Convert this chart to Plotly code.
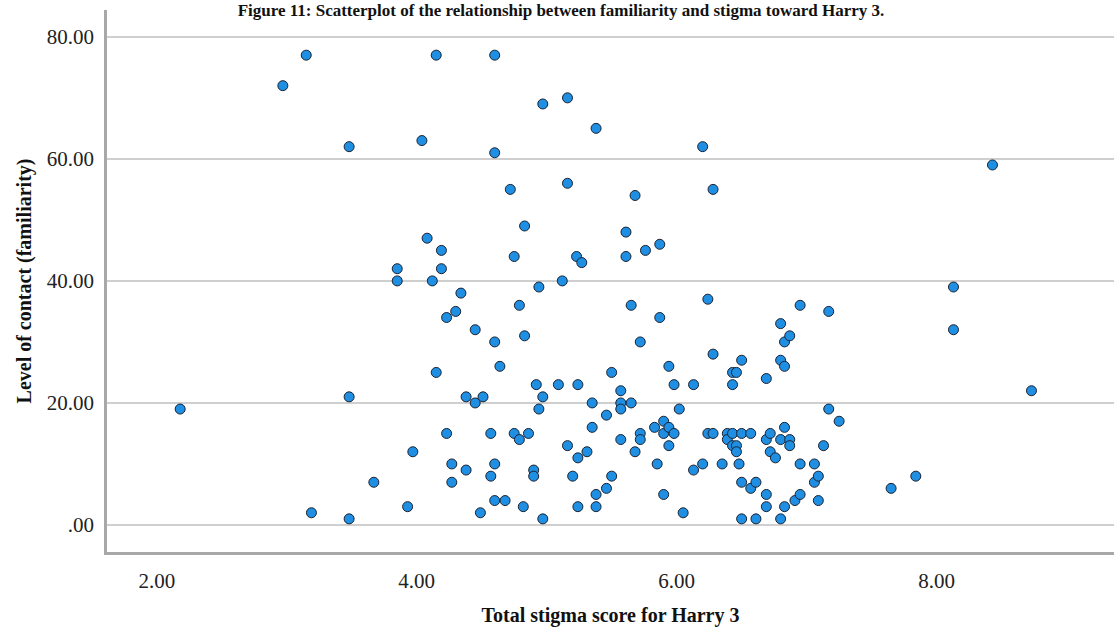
import plotly.graph_objects as go

# Total stigma score for Harry 3 (x) and Level of contact (familiarity) (y)
stigma = [
    2.18, 2.97, 3.15, 3.19, 3.48, 3.48, 3.48, 3.67, 3.85, 3.85,
    3.93, 3.97, 4.04, 4.08, 4.12, 4.15, 4.15, 4.19, 4.19, 4.23,
    4.23, 4.27, 4.27, 4.30, 4.34, 4.38, 4.38, 4.45, 4.45, 4.49,
    4.51, 4.57, 4.57, 4.60, 4.60, 4.60, 4.60, 4.60, 4.64, 4.68,
    4.72, 4.75, 4.75, 4.79, 4.79, 4.83, 4.83, 4.82, 4.86, 4.90,
    4.90, 4.92, 4.94, 4.94, 4.97, 4.97, 4.97, 5.09, 5.12, 5.16,
    5.16, 5.16, 5.20, 5.23, 5.24, 5.24, 5.24, 5.27, 5.31, 5.35,
    5.35, 5.38, 5.38, 5.38, 5.46, 5.46, 5.50, 5.50, 5.57, 5.57,
    5.57, 5.57, 5.61, 5.61, 5.65, 5.65, 5.68, 5.68, 5.72, 5.72,
    5.72, 5.76, 5.83, 5.85, 5.87, 5.87, 5.90, 5.90, 5.90, 5.94,
    5.94, 5.94, 5.98, 5.98, 6.02, 6.05, 6.13, 6.13, 6.20, 6.20,
    6.24, 6.24, 6.28, 6.28, 6.28, 6.35, 6.39, 6.39, 6.43, 6.43,
    6.43, 6.43, 6.46, 6.46, 6.46, 6.48, 6.50, 6.50, 6.50, 6.50,
    6.57, 6.57, 6.61, 6.61, 6.69, 6.69, 6.69, 6.69, 6.72, 6.72,
    6.76, 6.80, 6.80, 6.80, 6.80, 6.83, 6.83, 6.83, 6.83, 6.87,
    6.87, 6.87, 6.91, 6.95, 6.95, 6.95, 7.06, 7.06, 7.09, 7.09,
    7.13, 7.17, 7.17, 7.25, 7.65, 7.84, 8.13, 8.13, 8.43, 8.73,
]
contact = [
    19, 72, 77, 2, 62, 21, 1, 7, 42, 40,
    3, 12, 63, 47, 40, 77, 25, 45, 42, 34,
    15, 10, 7, 35, 38, 21, 9, 32, 20, 2,
    21, 15, 8, 77, 61, 30, 10, 4, 26, 4,
    55, 44, 15, 36, 14, 49, 31, 3, 15, 9,
    8, 23, 39, 19, 69, 21, 1, 23, 40, 70,
    56, 13, 8, 44, 23, 11, 3, 43, 12, 20,
    16, 65, 5, 3, 18, 6, 25, 8, 22, 20,
    19, 14, 48, 44, 36, 20, 54, 12, 30, 15,
    14, 45, 16, 10, 46, 34, 17, 15, 5, 26,
    16, 13, 23, 15, 19, 2, 23, 9, 62, 10,
    37, 15, 55, 28, 15, 10, 15, 14, 25, 23,
    15, 13, 25, 13, 12, 10, 27, 15, 7, 1,
    15, 6, 7, 1, 24, 14, 5, 3, 15, 12,
    11, 33, 27, 14, 1, 30, 26, 16, 3, 31,
    14, 13, 4, 36, 10, 5, 10, 7, 8, 4,
    13, 35, 19, 17, 6, 8, 39, 32, 59, 22,
]

y_ticks = [0, 20, 40, 60, 80]
y_tick_labels = [".00", "20.00", "40.00", "60.00", "80.00"]
x_ticks = [2, 4, 6, 8]
x_tick_labels = ["2.00", "4.00", "6.00", "8.00"]

title_text = "Figure 11: Scatterplot of the relationship between familiarity and stigma toward Harry 3."
x_title = "Total stigma score for Harry 3"
y_title = "Level of contact (familiarity)"

serif = "Liberation Serif, Times New Roman, serif"

fig = go.Figure()
fig.add_trace(go.Scatter(
    x=stigma, y=contact, mode="markers",
    marker=dict(size=10, color="#1f8fe3", line=dict(color="#1b2230", width=1)),
    showlegend=False, hoverinfo="x+y",
))

fig.update_layout(
    width=1114, height=627,
    paper_bgcolor="white", plot_bgcolor="white",
    margin=dict(l=107, r=0, t=10, b=75),
    font=dict(family=serif, color="#222222"),
    title=dict(
        text="<b>" + title_text + "</b>",
        x=561 / 1114, xanchor="center", xref="container",
        y=1 - 4 / 627, yanchor="top", yref="container", pad=dict(t=0, b=0),
        font=dict(family=serif, size=17, color="#111111"),
    ),
)

fig.update_xaxes(
    range=[1.617, 9.365], tickmode="array", tickvals=x_ticks, ticktext=x_tick_labels,
    showgrid=False, zeroline=False, showline=True, linecolor="#a8a8a8", linewidth=2.5,
    ticks="", tickfont=dict(family=serif, size=21, color="#222222"),
    ticklabelstandoff=8,
    title=dict(text="<b>" + x_title + "</b>", font=dict(family=serif, size=20, color="#111111"), standoff=20),
)
fig.update_yaxes(
    range=[-4.43, 84.4], tickmode="array", tickvals=y_ticks, ticktext=y_tick_labels,
    showgrid=True, gridcolor="#cfcfcf", gridwidth=2, zeroline=False,
    showline=True, linecolor="#a8a8a8", linewidth=2.5,
    ticks="", tickfont=dict(family=serif, size=21, color="#222222"),
    ticklabelstandoff=6,
    title=dict(text="<b>" + y_title + "</b>", font=dict(family=serif, size=20, color="#111111"), standoff=10),
)

fig.write_html("out.html")
